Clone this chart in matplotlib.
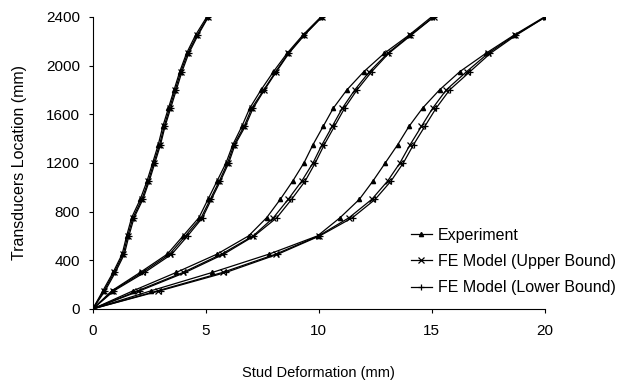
import matplotlib.pyplot as plt

plt.rcParams['font.family'] = ['Liberation Sans', 'DejaVu Sans']

# transducer locations (mm)
loc = [0, 150, 300, 450, 600, 750, 900, 1050, 1200, 1350, 1500, 1650, 1800, 1950, 2100, 2250, 2400]

# stud deformation (mm), four load stages
exp_1 = [0, 0.45, 0.9, 1.3, 1.5, 1.72, 2.1, 2.4, 2.65, 2.9, 3.1, 3.35, 3.6, 3.85, 4.15, 4.55, 5.05]
up_1 = [0, 0.5, 0.95, 1.35, 1.55, 1.78, 2.17, 2.46, 2.7, 2.96, 3.16, 3.4, 3.65, 3.9, 4.2, 4.62, 5.1]
lo_1 = [0, 0.55, 1.0, 1.4, 1.6, 1.83, 2.22, 2.5, 2.75, 3.0, 3.2, 3.45, 3.7, 3.95, 4.25, 4.66, 5.12]

exp_2 = [0, 0.85, 2.1, 3.3, 4.0, 4.7, 5.1, 5.5, 5.9, 6.2, 6.6, 6.95, 7.45, 8.0, 8.6, 9.3, 10.1]
up_2 = [0, 0.9, 2.2, 3.4, 4.1, 4.8, 5.2, 5.6, 5.97, 6.25, 6.7, 7.04, 7.57, 8.1, 8.65, 9.35, 10.15]
lo_2 = [0, 0.95, 2.3, 3.5, 4.2, 4.86, 5.25, 5.65, 6.02, 6.3, 6.75, 7.1, 7.6, 8.13, 8.68, 9.37, 10.15]

exp_3 = [0, 1.8, 3.7, 5.5, 6.9, 7.7, 8.3, 8.85, 9.35, 9.75, 10.2, 10.65, 11.25, 12.0, 12.9, 14.0, 15.0]
up_3 = [0, 2.0, 4.0, 5.7, 7.1, 8.0, 8.65, 9.25, 9.75, 10.15, 10.6, 11.05, 11.6, 12.25, 13.05, 14.05, 15.1]
lo_3 = [0, 2.1, 4.1, 5.8, 7.15, 8.15, 8.8, 9.4, 9.85, 10.25, 10.7, 11.15, 11.7, 12.35, 13.1, 14.1, 15.1]

exp_4 = [0, 2.6, 5.3, 7.8, 9.95, 10.95, 11.8, 12.4, 12.95, 13.5, 14.0, 14.6, 15.35, 16.25, 17.4, 18.65, 20.0]
up_4 = [0, 2.9, 5.75, 8.1, 10.0, 11.35, 12.35, 13.05, 13.6, 14.05, 14.55, 15.05, 15.65, 16.55, 17.5, 18.7, 20.05]
lo_4 = [0, 3.0, 5.9, 8.2, 10.05, 11.5, 12.5, 13.2, 13.75, 14.2, 14.7, 15.2, 15.8, 16.7, 17.6, 18.75, 20.05]

fig = plt.figure(figsize=(6.31, 3.92), dpi=100)
ax = fig.add_axes([0.147, 0.212, 0.716, 0.745])

kw = dict(color='black', lw=0.9)
for i, (e, u, l) in enumerate([(exp_1, up_1, lo_1), (exp_2, up_2, lo_2),
                               (exp_3, up_3, lo_3), (exp_4, up_4, lo_4)]):
    ax.plot(e, loc, marker='^', ms=3, label='Experiment' if i == 0 else None, **kw)
    ax.plot(u, loc, marker='x', ms=4, mew=0.9, label='FE Model (Upper Bound)' if i == 0 else None, **kw)
    ax.plot(l, loc, marker='+', ms=5, mew=0.9, label='FE Model (Lower Bound)' if i == 0 else None, **kw)

ax.set_xlim(0, 20)
ax.set_ylim(0, 2400)
ax.set_xticks([0, 5, 10, 15, 20])
ax.set_yticks(range(0, 2401, 400))
ax.spines['top'].set_visible(False)
ax.spines['right'].set_visible(False)
ax.tick_params(direction='out', length=3, labelsize=11)
ax.tick_params(axis='x', pad=8)
ax.tick_params(axis='y', pad=6)
ax.set_xlabel('Stud Deformation (mm)', fontsize=10.5, labelpad=20)
ax.set_ylabel('Transducers Location (mm)', fontsize=11.5, labelpad=14)

ax.legend(loc='lower left', bbox_to_anchor=(0.69, 0.025), frameon=False,
          fontsize=11.5, handlelength=1.3, handletextpad=0.4, labelspacing=0.7,
          borderaxespad=0)

fig.savefig('out.png', dpi=100)
